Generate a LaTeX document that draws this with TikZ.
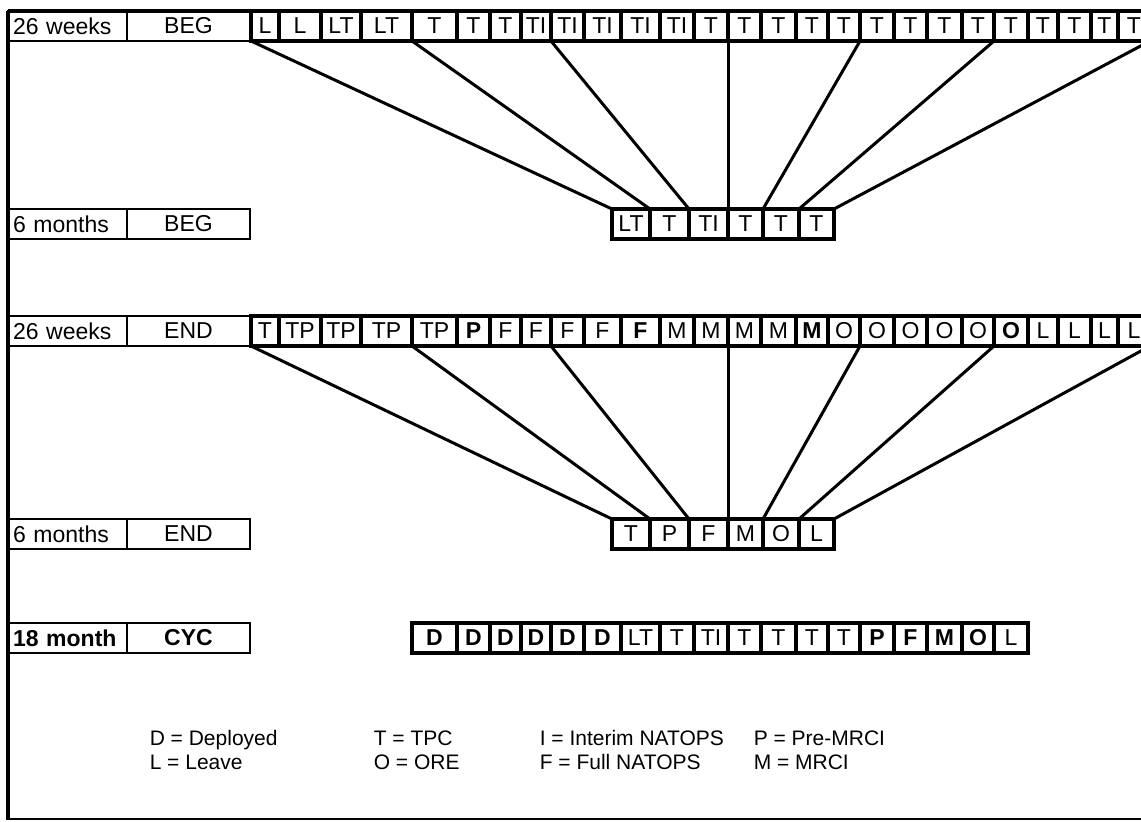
\documentclass[tikz,border=0pt]{standalone}
\usepackage{fontspec}
\setmainfont{Liberation Sans}
\begin{document}
\begin{tikzpicture}[x=1pt, y=-1pt, line width=3.5pt,
  cell/.style={draw, line width=3.5pt, outer sep=0pt, inner sep=0pt, minimum height=30pt, font=\fontsize{23}{23}\selectfont},
  lbl/.style={draw, line width=2.5pt, outer sep=0pt, inner sep=0pt, minimum height=30pt, font=\fontsize{23}{23}\selectfont},
  link/.style={line width=3pt},
  key/.style={anchor=base west, inner sep=0pt, font=\fontsize{21}{21}\selectfont}]
  \useasboundingbox (0,0) rectangle (1141,822);
  % frame
  \draw (8,11) -- (1141,11);
  \draw (8,11) -- (8,820);
  \draw[line width=1.5pt] (8,819) -- (1141,819);
  % 26 weeks, beginning
  \node[lbl, minimum width=119, text width=109pt, align=left] (wkA) at (67.5,26) {26 weeks};
  \node[lbl, minimum width=123] (phA) at (188.5,26) {BEG};
  \foreach \xa/\xb/\txt [count=\i] in {251/279/L, 279/321/L, 321/361/LT, 361/412/LT, 412/457/T, 457/490/T, 490/521/T,
      521/551/TI, 551/584/TI, 584/621/TI, 621/660/TI, 660/694/TI, 694/728/T, 728/761/T, 761/796/T, 796/828/T,
      828/860/T, 860/894/T, 894/927/T, 927/962/T, 962/994/T, 994/1028/T, 1028/1058/T, 1058/1091/T, 1091/1118/T, 1118/1150/T}
    \node[cell, minimum width={\xb-\xa}] (bw\i) at ({(\xa+\xb)/2},26) {\txt};
  % 6 months, beginning
  \node[lbl, minimum width=119, text width=109pt, align=left] (moB) at (67.5,224) {6 months};
  \node[lbl, minimum width=123] (phB) at (188.5,224) {BEG};
  \foreach \xa/\xb/\txt [count=\i] in {612/650/LT, 650/689/T, 689/728/TI, 728/763/T, 763/799/T, 799/834/T}
    \node[cell, minimum width={\xb-\xa}] (bm\i) at ({(\xa+\xb)/2},224) {\txt};
  \draw[link] (bw1.south west) -- (bm1.north west);
  \foreach \w/\m in {4/1, 8/2, 13/3, 17/4, 21/5, 26/6}
    \draw[link] (bw\w.south east) -- (bm\m.north east);
  % 26 weeks, end
  \node[lbl, minimum width=119, text width=109pt, align=left] (wkC) at (67.5,331) {26 weeks};
  \node[lbl, minimum width=123] (phC) at (188.5,331) {END};
  \foreach \xa/\xb/\txt [count=\i] in {251/279/T, 279/321/TP, 321/361/TP, 361/412/TP, 412/457/TP, 457/490/\textbf{P}, 490/521/F,
      521/551/F, 551/584/F, 584/621/F, 621/660/\textbf{F}, 660/694/M, 694/728/M, 728/761/M, 761/796/M, 796/828/\textbf{M},
      828/860/O, 860/894/O, 894/927/O, 927/962/O, 962/994/O, 994/1028/\textbf{O}, 1028/1058/L, 1058/1091/L, 1091/1118/L, 1118/1150/L}
    \node[cell, minimum width={\xb-\xa}] (ew\i) at ({(\xa+\xb)/2},331) {\txt};
  % 6 months, end
  \node[lbl, minimum width=119, text width=109pt, align=left] (moD) at (67.5,534) {6 months};
  \node[lbl, minimum width=123] (phD) at (188.5,534) {END};
  \foreach \xa/\xb/\txt [count=\i] in {612/650/T, 650/689/P, 689/728/F, 728/763/M, 763/799/O, 799/834/L}
    \node[cell, minimum width={\xb-\xa}] (em\i) at ({(\xa+\xb)/2},534) {\txt};
  \draw[link] (ew1.south west) -- (em1.north west);
  \foreach \w/\m in {4/1, 8/2, 13/3, 17/4, 21/5, 26/6}
    \draw[link] (ew\w.south east) -- (em\m.north east);
  % 18 month cycle
  \node[lbl, minimum width=119, text width=109pt, align=left, font=\fontsize{23}{23}\selectfont\bfseries] (cyE) at (67.5,638) {18 month};
  \node[lbl, minimum width=123, font=\fontsize{23}{23}\selectfont\bfseries] (phE) at (188.5,638) {CYC};
  \foreach \xa/\xb/\txt [count=\i] in {412/457/\textbf{D}, 457/490/\textbf{D}, 490/521/\textbf{D}, 521/551/\textbf{D}, 551/584/\textbf{D},
      584/621/\textbf{D}, 621/660/LT, 660/694/T, 694/728/TI, 728/761/T, 761/796/T, 796/828/T, 828/860/T,
      860/894/\textbf{P}, 894/927/\textbf{F}, 927/962/\textbf{M}, 962/994/\textbf{O}, 994/1028/L}
    \node[cell, minimum width={\xb-\xa}] (cy\i) at ({(\xa+\xb)/2},638) {\txt};
  % key
  \node[key] (kD) at (148,745) {D = Deployed};
  \node[key] (kL) at (148,769) {L = Leave};
  \node[key] (kT) at (372,745) {T = TPC};
  \node[key] (kO) at (372,769) {O = ORE};
  \node[key] (kI) at (538,745) {I = Interim NATOPS};
  \node[key] (kF) at (538,769) {F = Full NATOPS};
  \node[key] (kP) at (752,745) {P = Pre-MRCI};
  \node[key] (kM) at (752,769) {M = MRCI};
\end{tikzpicture}
\end{document}
